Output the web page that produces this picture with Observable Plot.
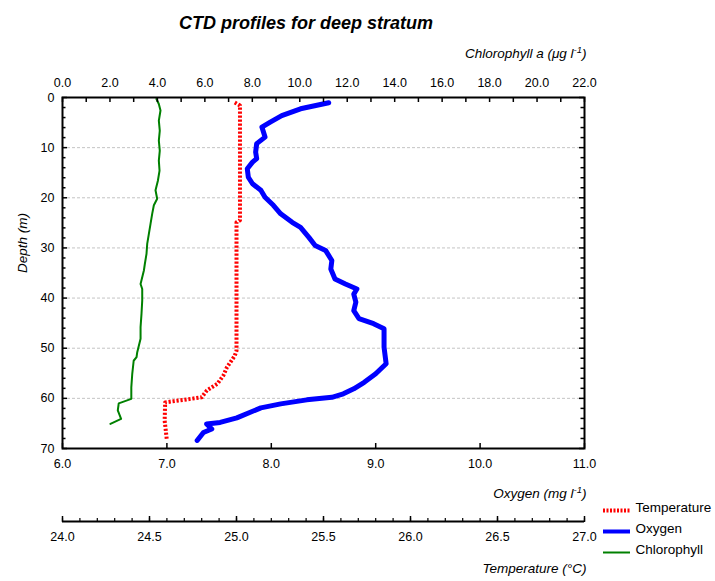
<!DOCTYPE html>
<html><head><meta charset="utf-8">
<script src="https://cdn.jsdelivr.net/npm/d3@7"></script>
<script src="https://cdn.jsdelivr.net/npm/@observablehq/plot@0.6"></script>
<style>
body{margin:0;background:#fff;font-family:"Liberation Sans",Arial,sans-serif;}
#title{height:40px;box-sizing:border-box;padding-top:13px;line-height:20px;width:612px;text-align:center;font-size:18px;font-weight:bold;font-style:italic;color:#000;}
</style></head><body>
<div id="title">CTD profiles for deep stratum</div>
<div id="chart"></div>
<script>
// ---- data ----
const tempDepth = [1.0, 1.6, 24.5, 24.9, 50.5, 51.5, 53.8, 55.4, 57.1, 58.4, 59.8, 60.8, 64.4, 68.4];
const tempC     = [24.99, 25.02, 25.02, 25.00, 25.00, 24.99, 24.945, 24.925, 24.89, 24.83, 24.80, 24.59, 24.587, 24.60];

const oxyDepth = [1.06, 2.25, 3.6, 4.9, 5.9, 7.9, 9.2, 10.9, 12.2, 12.9, 14.2, 15.9, 17.2, 18.5, 19.9, 21.5, 23.2, 24.9, 25.9, 27.9, 29.5, 30.5, 32.5, 34.2, 36.2, 37.2, 38.2, 39.2, 40.8, 42.5, 44.1, 45.1, 46.1, 49.8, 53.1, 55.1, 56.8, 58.1, 59.1, 59.8, 60.3, 61.1, 61.9, 63.9, 64.8, 65.1, 66.1, 66.8, 68.4];
const oxyMgL   = [8.55, 8.28, 8.10, 7.99, 7.91, 7.94, 7.86, 7.85, 7.86, 7.82, 7.77, 7.78, 7.82, 7.90, 7.94, 8.02, 8.09, 8.20, 8.28, 8.36, 8.42, 8.52, 8.58, 8.57, 8.61, 8.71, 8.82, 8.79, 8.81, 8.79, 8.84, 8.98, 9.08, 9.08, 9.10, 9.00, 8.89, 8.79, 8.69, 8.58, 8.34, 8.09, 7.90, 7.67, 7.51, 7.38, 7.43, 7.35, 7.29];

const chlDepth = [0.3, 1.3, 2.6, 4.6, 6.6, 8.6, 10.6, 12.6, 14.6, 16.6, 18.5, 20.2, 21.5, 23.2, 25.2, 27.2, 29.2, 31.2, 33.2, 34.5, 37.2, 38.2, 40.5, 43.1, 45.8, 48.1, 50.8, 51.8, 52.5, 55.1, 57.8, 60.1, 61.0, 62.4, 64.1, 65.1];
const chlUgL   = [3.96, 4.06, 4.13, 4.06, 4.10, 4.06, 4.10, 4.06, 4.09, 4.02, 3.92, 3.99, 3.85, 3.78, 3.71, 3.64, 3.57, 3.54, 3.47, 3.43, 3.29, 3.36, 3.36, 3.33, 3.29, 3.29, 3.15, 3.12, 3.00, 2.94, 2.90, 2.90, 2.37, 2.33, 2.47, 2.02];

const oxyTicks   = [6, 7, 8, 9, 10, 11];
const chlTicks   = [0, 2, 4, 6, 8, 10, 12, 14, 16, 18, 20, 22];
const chlMinor   = d3.range(0, 23, 1);
const tempTicks  = [24.0, 24.5, 25.0, 25.5, 26.0, 26.5, 27.0];
const tempMinor  = d3.range(0, 31).map(i => 24 + i * 0.1);
const depthTicks = [0, 10, 20, 30, 40, 50, 60, 70];
const depthMinor = d3.range(0, 71, 2);
const gridDepths = [10, 20, 30, 40, 50, 60];
const legendNames = ["Temperature", "Oxygen", "Chlorophyll"];

// ---- layout ----
const W = 715, H = 541, mL = 62, mR = 131, mT = 57, mB = 133;
const pxX = (W - mL - mR) / 5;    // px per oxygen unit
const pxY = (H - mT - mB) / 70;   // px per metre
const chlToOx = c => 6 + c * 5 / 22;
const tempToOx = t => 6 + (t - 24) * 5 / 3;

const tempData = tempDepth.map((d, i) => ({depth: d, v: tempC[i]}));
const oxyData = oxyDepth.map((d, i) => ({depth: d, v: oxyMgL[i]}));
const chlData = chlDepth.map((d, i) => ({depth: d, v: chlUgL[i]}));

const legendStyles = [
  {stroke: "#ff0000", strokeWidth: 4, strokeDasharray: "2,1.5"},
  {stroke: "#0000ff", strokeWidth: 4},
  {stroke: "#008000", strokeWidth: 2}
];

const marks = [
  Plot.ruleY(gridDepths, {stroke: "#c4c4c4", strokeWidth: 1, strokeDasharray: "3,2"}),
  Plot.line(chlData, {x: d => chlToOx(d.v), y: "depth", stroke: "#008000", strokeWidth: 2}),
  Plot.line(tempData, {x: d => tempToOx(d.v), y: "depth", stroke: "#ff0000", strokeWidth: 4, strokeDasharray: "2.2,1.8", strokeLinecap: "butt"}),
  Plot.line(oxyData, {x: "v", y: "depth", stroke: "#0000ff", strokeWidth: 5, strokeLinejoin: "round"}),
  // inner ticks
  Plot.ruleX(chlMinor, {x: chlToOx, y1: 0, y2: 5 / pxY, stroke: "#000", strokeWidth: 1.5}),
  Plot.ruleX(oxyTicks, {x: d => d, y1: 70, y2: 70 - 5 / pxY, stroke: "#000", strokeWidth: 1.5}),
  Plot.ruleY(depthMinor, {y: d => d, x1: 6, x2: d => 6 + (d % 10 === 0 ? 5 : 3.5) / pxX, stroke: "#000", strokeWidth: 1.5}),
  Plot.ruleY(depthMinor, {y: d => d, x1: d => 11 - (d % 10 === 0 ? 5 : 3.5) / pxX, x2: 11, stroke: "#000", strokeWidth: 1.5}),
  Plot.frame({stroke: "#000", strokeWidth: 2}),
  // tick labels
  Plot.text(chlTicks, {x: chlToOx, frameAnchor: "top", dy: -19, text: d => d.toFixed(1), fill: "#000"}),
  Plot.text(oxyTicks, {x: d => d, frameAnchor: "bottom", dy: 19, text: d => d.toFixed(1), fill: "#000"}),
  Plot.text(depthTicks, {y: d => d, frameAnchor: "left", dx: -8, textAnchor: "end", text: d => String(d), fill: "#000"}),
  // temperature axis (separate, below)
  Plot.ruleY([70], {x1: 6, x2: 11, dy: 73, stroke: "#000", strokeWidth: 2}),
  Plot.ruleX(tempMinor, {x: tempToOx, y1: 70, y2: 70 - 3 / pxY, dy: 73, stroke: "#000", strokeWidth: 1.2}),
  Plot.ruleX(tempTicks, {x: tempToOx, y1: 70 + 1 / pxY, y2: 70 - 5 / pxY, dy: 73, stroke: "#000", strokeWidth: 1.5}),
  Plot.text(tempTicks, {x: tempToOx, frameAnchor: "bottom", dy: 92, text: d => d.toFixed(1), fill: "#000"}),
  // axis titles
  Plot.text(["Chlorophyll a (μg l-1)"], {frameAnchor: "top-right", dx: 2, dy: -49, textAnchor: "end", fontStyle: "italic", fontSize: 13.5, fill: "#000"}),
  Plot.text(["Oxygen (mg l-1)"], {frameAnchor: "bottom-right", dx: 2, dy: 49, textAnchor: "end", fontStyle: "italic", fontSize: 13.5, fill: "#000"}),
  Plot.text(["Temperature (°C)"], {frameAnchor: "bottom-right", dx: 2, dy: 124, textAnchor: "end", fontStyle: "italic", fontSize: 13.5, fill: "#000"}),
  Plot.text(["Depth (m)"], {frameAnchor: "left", dx: -40, rotate: -90, fontStyle: "italic", fontSize: 13.5, fill: "#000"})
];

legendNames.forEach((name, i) => {
  marks.push(Plot.ruleY([70], {x1: 11, x2: 11 + 27 / pxX, dx: 19, dy: 62 + 21 * i, ...legendStyles[i]}));
  marks.push(Plot.text([name], {frameAnchor: "bottom-right", dx: 51, dy: 63 + 21 * i, textAnchor: "start", fontSize: 13.5, fill: "#000"}));
});

const svg = Plot.plot({
  width: W, height: H,
  marginLeft: mL, marginRight: mR, marginTop: mT, marginBottom: mB,
  x: {domain: [6, 11], axis: null},
  y: {domain: [0, 70], reverse: true, axis: null},
  style: {fontFamily: "'Liberation Sans', Arial, sans-serif", fontSize: "12.5px", background: "#fff", overflow: "visible", color: "#000"},
  marks
});

// superscripts for unit labels
d3.select(svg).selectAll("text").each(function () {
  const t = this.textContent;
  if (t.endsWith(" l-1)")) {
    const base = t.slice(0, -3);
    const sel = d3.select(this);
    sel.text(null);
    sel.append("tspan").text(base);
    sel.append("tspan").attr("baseline-shift", "super").attr("font-size", "70%").text("-1");
    sel.append("tspan").text(")");
  }
});

document.getElementById("chart").appendChild(svg);
</script>
</body></html>
